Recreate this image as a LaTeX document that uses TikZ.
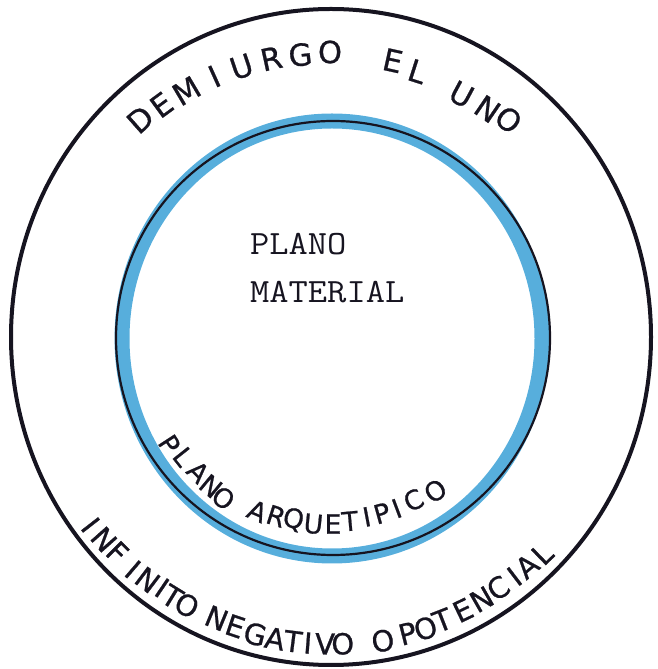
\documentclass[tikz,border=0pt]{standalone}
\usepackage{fontspec}
\usepackage{graphicx}
\newfontfamily\lettering{DejaVu Sans}[FakeBold=0.8]
\definecolor{ink}{RGB}{22,20,32}
\definecolor{crayon}{RGB}{78,170,218}
\begin{document}
\begin{tikzpicture}[x=1pt,y=1pt,
  outerlet/.style={font=\lettering\fontsize{30.5}{30.5}\selectfont, inner sep=0pt, text=ink},
  lowlet/.style={font=\lettering\fontsize{29}{29}\selectfont, inner sep=0pt, text=ink},
  innerlet/.style={font=\lettering\fontsize{26.5}{26.5}\selectfont, inner sep=0pt, text=ink},
  typed/.style={font=\ttfamily\fontsize{34}{34}\selectfont, inner sep=0pt, anchor=base west, text=ink},
  outerring/.style={draw=ink, line width=4},
  crayonring/.style={draw=crayon, line width=15, opacity=0.95},
  innerring/.style={draw=ink, line width=2.2}]
\useasboundingbox (0,0) rectangle (658,669);
\coordinate (c) at (332,332);
\coordinate (ci) at (333,331);
% rings
\draw[outerring] (331,332) ellipse [x radius=320, y radius=328];
\draw[crayonring] (332,330.5) ellipse [x radius=210, y radius=217.5];
\draw[innerring] (ci) circle [radius=217];
% top text
\foreach \ch/\a/\r [count=\i] in {D/131.4/290, E/126.3/288, M/120.6/286, I/114.3/286,
    U/108.5/285, R/102.3/285, G/96.4/284, O/90.4/285, E/77.6/283, L/72.2/279,
    U/61.9/275, N/55.7/276, O/50.9/280}
  \node[outerlet, rotate=\a-90] (top\i) at ([shift={(\a:\r)}]c) {\ch};
% bottom outer text
\foreach \ch/\a/\r [count=\i] in {I/217.9/306, N/221.6/305, F/225.1/304, I/229.4/306,
    N/232.8/305, I/235.9/303, T/238.4/305, O/241.6/305,
    N/247.7/304, E/251.5/305, G/255.5/307, A/259.3/307, T/262.7/307, I/265.5/307,
    V/268.7/307, O/272/307,
    O/279.5/308,
    P/284.3/306, O/287.8/306, T/291.3/304, E/295.6/303, N/299.7/302, C/303.5/301,
    I/307.3/301, A/310.4/301, L/314.1/302}
  \node[lowlet, rotate=\a+90] (low\i) at ([shift={(\a:\r)}]c) {\ch};
% inner arc text
\foreach \ch/\a/\r [count=\i] in {P/213/195, L/218.4/191, A/224.8/190, N/230.5/192,
    O/235.6/194, A/246.4/189, R/252.3/187, Q/257.7/186, U/264/187, E/270/186,
    T/275.3/184, I/280.7/182, P/285.6/182, I/290.5/182, C/296.4/181, O/303.8/184}
  \node[innerlet, rotate=\a+90] (arq\i) at ([shift={(\a:\r)}]ci) {\ch};
% centre text
\node[typed] (plano) at (250,414) {\scalebox{1.1}[1]{PLANO}};
\node[typed] (material) at (250,366) {\scalebox{1.1}[1]{MATERIAL}};
\end{tikzpicture}
\end{document}
